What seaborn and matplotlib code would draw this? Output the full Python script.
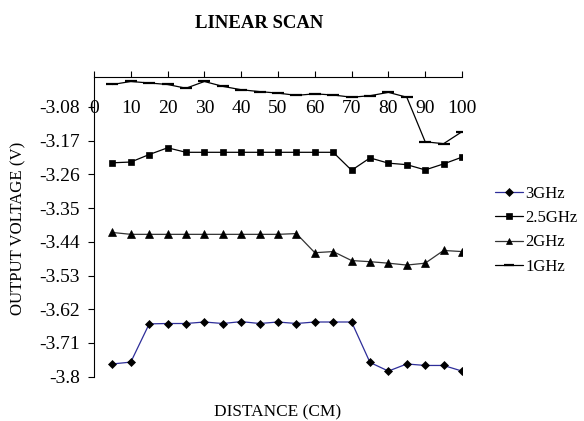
import matplotlib
matplotlib.use("Agg")
import matplotlib.pyplot as plt
import seaborn as sns
import numpy as np
import pandas as pd

distance = [5, 10, 15, 20, 25, 30, 35, 40, 45, 50, 55, 60, 65, 70, 75, 80, 85, 90, 95, 100]
v_3ghz = [-3.766, -3.761, -3.659, -3.658, -3.658, -3.654, -3.658, -3.653, -3.658, -3.654,
          -3.658, -3.654, -3.654, -3.654, -3.762, -3.785, -3.766, -3.770, -3.770, -3.785]
v_25ghz = [-3.229, -3.227, -3.207, -3.189, -3.201, -3.201, -3.201, -3.201, -3.201, -3.201,
           -3.201, -3.201, -3.201, -3.249, -3.216, -3.230, -3.234, -3.248, -3.232, -3.214]
v_2ghz = [-3.415, -3.420, -3.420, -3.420, -3.420, -3.420, -3.420, -3.420, -3.420, -3.420,
          -3.418, -3.469, -3.466, -3.490, -3.493, -3.497, -3.502, -3.497, -3.463, -3.466]
v_1ghz = [-3.020, -3.012, -3.016, -3.020, -3.030, -3.012, -3.025, -3.034, -3.039, -3.043,
          -3.049, -3.045, -3.048, -3.054, -3.050, -3.041, -3.054, -3.173, -3.178, -3.146]
series_names = ["3GHz", "2.5GHz", "2GHz", "1GHz"]
xticks = [0, 10, 20, 30, 40, 50, 60, 70, 80, 90, 100]
yticks = [-3.8, -3.71, -3.62, -3.53, -3.44, -3.35, -3.26, -3.17, -3.08]
ytick_labels = ["-3.8", "-3.71", "-3.62", "-3.53", "-3.44", "-3.35", "-3.26", "-3.17", "-3.08"]

sns.set_style("white")
plt.rcParams['font.family'] = ['Liberation Serif', 'DejaVu Serif']
plt.rcParams['text.color'] = 'black'
plt.rcParams['xtick.color'] = 'black'
plt.rcParams['ytick.color'] = 'black'
plt.rcParams['axes.labelcolor'] = 'black'

fig = plt.figure(figsize=(5.84, 4.21), dpi=100)
ax = fig.add_axes([94/584, 1-376.7/421, (462-94)/584, (376.7-77)/421])

styles = {
    "3GHz": dict(color="#2e2e9a", marker="D", ms=4.5, mfc="black", mec="black"),
    "2.5GHz": dict(color="black", marker="s", ms=5, mfc="black", mec="black"),
    "2GHz": dict(color="#333333", marker="^", ms=6, mfc="black", mec="black"),
    "1GHz": dict(color="black", marker="_", ms=9, mfc="black", mec="black", mew=1.6),
}
data = {"3GHz": v_3ghz, "2.5GHz": v_25ghz, "2GHz": v_2ghz, "1GHz": v_1ghz}
for name in series_names:
    df = pd.DataFrame({"distance": distance, "voltage": data[name]})
    st = styles[name]
    sns.lineplot(data=df, x="distance", y="voltage", ax=ax, color=st["color"],
                 marker=st["marker"], markersize=st["ms"], markerfacecolor=st["mfc"],
                 markeredgecolor=st["mec"], markeredgewidth=st.get("mew", 0.5),
                 linewidth=0.9, label=name)

ax.set_xlim(0, 100)
ax.set_ylim(-3.8, -3.0)
ax.set_xticks(xticks)
ax.set_xticklabels([str(t) for t in xticks], fontsize=14)
ax.set_yticks(yticks)
ax.set_yticklabels(ytick_labels, fontsize=14)
ax.xaxis.set_ticks_position("top")
ax.tick_params(axis="x", which="both", top=True, bottom=False, labeltop=True, labelbottom=False,
               direction="out", length=4, width=0.8, color="black", pad=-33)
ax.tick_params(axis="y", left=True, direction="out", length=4, width=0.8, color="black", pad=6)
for s in ["right", "bottom"]:
    ax.spines[s].set_visible(False)
for s in ["top", "left"]:
    ax.spines[s].set_color("black")
    ax.spines[s].set_linewidth(0.8)
ax.set_xlabel("")
ax.set_ylabel("")

leg = ax.legend(loc="upper left", bbox_to_anchor=(488/584, 1-179/421), bbox_transform=fig.transFigure,
                frameon=False, fontsize=12, handlelength=1.7, handletextpad=0.15, labelspacing=0.5,
                borderaxespad=0, markerscale=0.8)

fig.text(259/584, 1-23/421, "LINEAR SCAN", ha="center", va="center", fontsize=13.5, fontweight="bold")
fig.text(278/584, 1-412/421, "DISTANCE (CM)", ha="center", va="center", fontsize=12.4)
fig.text(18/584, 1-228/421, "OUTPUT VOLTAGE (V)", ha="center", va="center", fontsize=12.1, rotation=90)

fig.savefig("out.png", dpi=100)
